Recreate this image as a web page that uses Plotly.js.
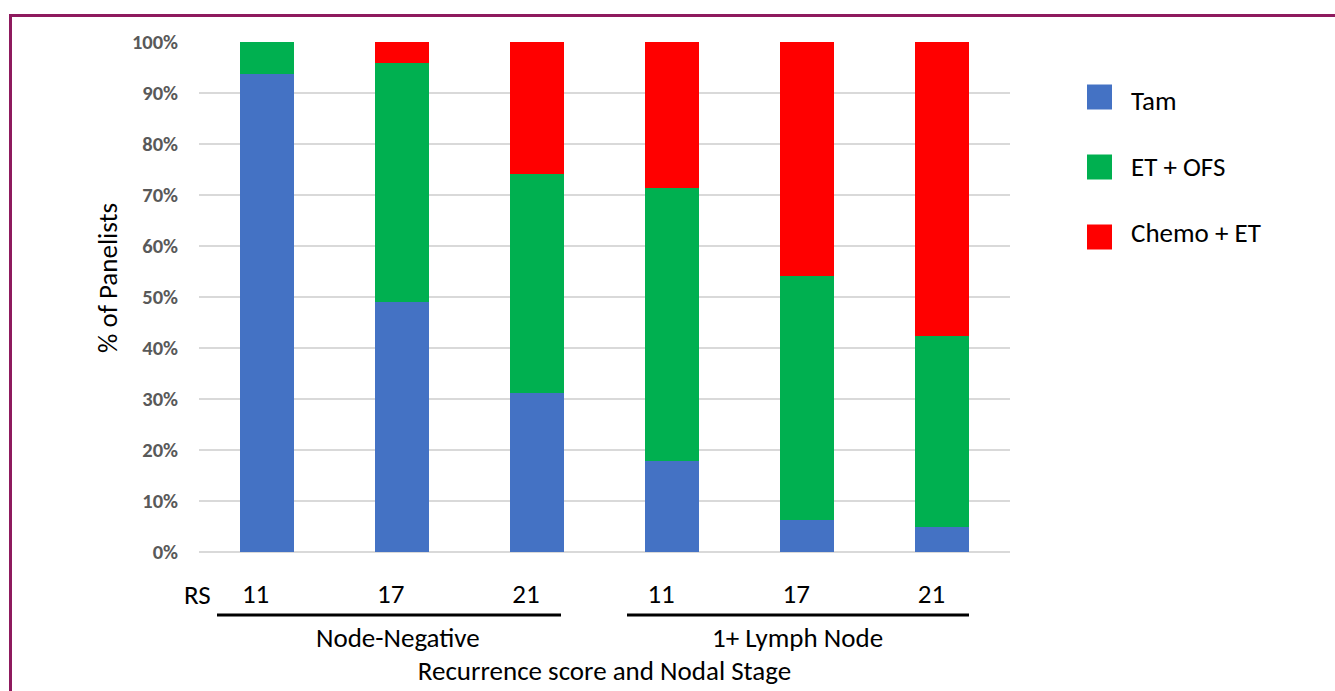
<!DOCTYPE html>
<html>
<head>
<meta charset="utf-8">
<script src="https://cdn.plot.ly/plotly-3.0.1.min.js"></script>
<style>html,body{margin:0;padding:0;background:#fff;}#chart{width:1335px;height:691px;}</style>
</head>
<body>
<div id="chart"></div>
<script>
// Data
const positions = [0, 1, 2, 3, 4, 5];
const rsLabels = ["11", "17", "21", "11", "17", "21"];
const groups = ["Node-Negative", "1+ Lymph Node"];
const seriesNames = ["Tam", "ET + OFS", "Chemo + ET"];
const tam = [93.8, 49.0, 31.2, 17.8, 6.2, 5.0];
const etOfs = [6.2, 46.9, 43.0, 53.5, 48.0, 37.4];
const chemoEt = [0.0, 4.1, 25.8, 28.7, 45.8, 57.6];
const colors = ["#4472C4", "#00B050", "#FF0000"];

const FONT = "Carlito, Lato, 'Open Sans', sans-serif";
const FS = 27;
const W = 1335, H = 691;
const M = {l: 199, r: 325, t: 42, b: 139};
const pw = W - M.l - M.r, ph = H - M.t - M.b;
const px = v => (v - M.l) / pw;
const py = v => (H - M.b - v) / ph;

const values = [tam, etOfs, chemoEt];
const traces = values.map((vals, i) => ({
  type: "bar",
  name: seriesNames[i],
  x: positions,
  y: vals,
  width: 0.4,
  marker: {color: colors[i], line: {width: 0}},
  hovertemplate: "%{y:.1f}%<extra>" + seriesNames[i] + "</extra>"
}));

const shapes = [
  {type: "rect", xref: "paper", yref: "paper", x0: px(10.5), x1: px(1400), y0: py(15.5), y1: py(760),
   line: {color: "#8E1A5E", width: 3}, fillcolor: "rgba(0,0,0,0)", layer: "below"},
  {type: "line", xref: "paper", yref: "paper", x0: px(217), x1: px(561), y0: py(615), y1: py(615),
   line: {color: "#000", width: 3}},
  {type: "line", xref: "paper", yref: "paper", x0: px(627), x1: px(969), y0: py(615), y1: py(615),
   line: {color: "#000", width: 3}}
];
const legY = [97, 167, 237];
const legTY = [100, 166, 232];
seriesNames.forEach((n, i) => {
  shapes.push({type: "rect", xref: "paper", yref: "paper",
    x0: px(1087), x1: px(1112), y0: py(legY[i] + 12.5), y1: py(legY[i] - 12.5),
    fillcolor: colors[i], line: {width: 0}});
});

const annotations = [
  {text: "% of Panelists", xref: "paper", yref: "paper", x: px(107), y: py(278), xanchor: "center", yanchor: "middle",
   textangle: -90, showarrow: false, font: {family: FONT, size: FS, color: "#000"}},
  {text: "RS", xref: "paper", yref: "paper", x: px(197), y: py(594), xanchor: "center", yanchor: "middle",
   showarrow: false, font: {family: FONT, size: FS, color: "#000"}},
  {text: groups[0], xref: "paper", yref: "paper", x: px(398), y: py(637), xanchor: "center", yanchor: "middle",
   showarrow: false, font: {family: FONT, size: FS, color: "#000"}},
  {text: groups[1], xref: "paper", yref: "paper", x: px(797), y: py(637), xanchor: "center", yanchor: "middle",
   showarrow: false, font: {family: FONT, size: FS, color: "#000"}}
];
seriesNames.forEach((n, i) => {
  annotations.push({text: n, xref: "paper", yref: "paper", x: px(1129), y: py(legTY[i]),
    xanchor: "left", yanchor: "middle", showarrow: false,
    font: {family: FONT, size: FS, color: "#000"}});
});

const layout = {
  width: W, height: H,
  margin: M,
  paper_bgcolor: "#fff", plot_bgcolor: "#fff",
  barmode: "stack",
  showlegend: false,
  font: {family: FONT, color: "#000"},
  xaxis: {
    range: [-0.5, 5.5],
    tickvals: positions,
    ticktext: rsLabels,
    showgrid: false, zeroline: false, showline: false,
    ticks: "", ticklabelstandoff: 23, ticklabelshift: -11,
    tickfont: {family: FONT, size: FS, color: "#000"},
    fixedrange: true,
    title: {text: "Recurrence score and Nodal Stage", standoff: 52, font: {family: FONT, size: FS, color: "#000"}}
  },
  yaxis: {
    range: [0, 100],
    dtick: 10,
    ticksuffix: "%",
    showgrid: true, gridcolor: "#D9D9D9", gridwidth: 1.5,
    zeroline: true, zerolinecolor: "#D9D9D9", zerolinewidth: 1.5,
    showline: false, ticks: "", ticklabelstandoff: 20,
    tickfont: {family: FONT, size: 20.5, color: "#595959", weight: "bold"},
    fixedrange: true
  },
  shapes: shapes,
  annotations: annotations
};

Plotly.newPlot("chart", traces, layout, {displayModeBar: false});
</script>
</body>
</html>
